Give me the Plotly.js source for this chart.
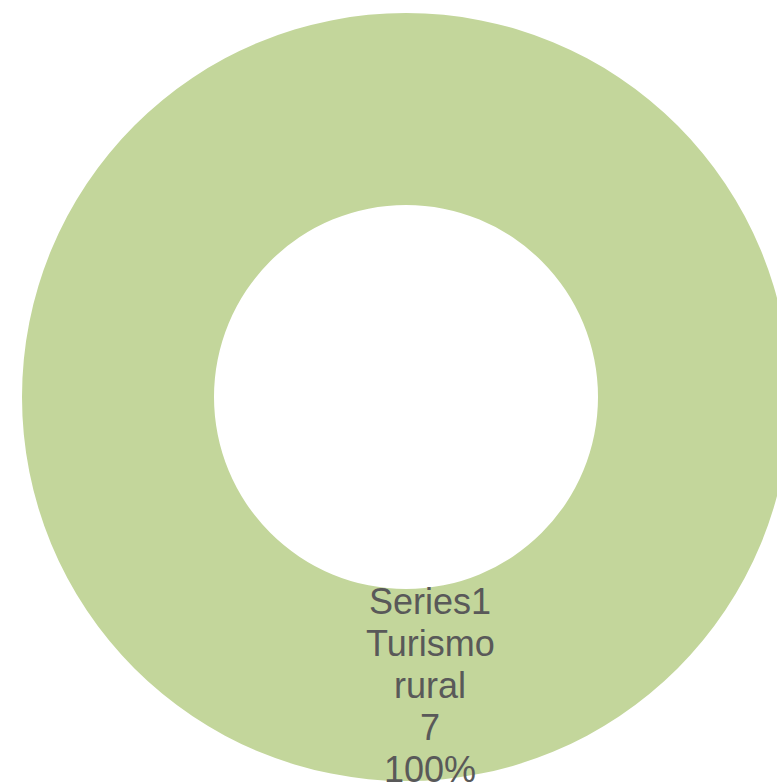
<!DOCTYPE html>
<html>
<head>
<meta charset="utf-8">
<script src="https://cdn.plot.ly/plotly-3.0.1.min.js"></script>
<style>
html, body { margin: 0; padding: 0; overflow: hidden; background: #ffffff; }
#chart { width: 800px; height: 800px; }
</style>
</head>
<body>
<div id="chart"></div>
<script>
const seriesName = "Series1";
const categories = ["Turismo rural"];
const values = [7];
const colors = ["#C3D69B"];

const total = values.reduce((a, b) => a + b, 0);
const pct = Math.round(values[0] / total * 100) + "%";
const labelLines = [seriesName].concat(categories[0].split(" ")).concat([String(values[0]), pct]);

const W = 800, H = 800;
const lineTop = 601, lineStep = 42, labelX = 430;
const annotations = labelLines.map((t, i) => ({
  text: t,
  x: labelX / W,
  y: 1 - (lineTop + i * lineStep) / H,
  xref: "paper", yref: "paper",
  xanchor: "center", yanchor: "middle",
  showarrow: false,
  font: { family: "Liberation Sans, Arial, sans-serif", size: 36, color: "#595959" }
}));

const data = [{
  type: "pie",
  labels: categories,
  values: values,
  hole: 0.5,
  sort: false,
  direction: "clockwise",
  rotation: 0,
  textinfo: "none",
  hoverinfo: "none",
  marker: { colors: colors, line: { width: 0 } },
  domain: { x: [22 / W, 790 / W], y: [(H - 781) / H, (H - 13) / H] },
  showlegend: false
}];

const layout = {
  width: W, height: H,
  margin: { l: 0, r: 0, t: 0, b: 0, pad: 0 },
  paper_bgcolor: "#ffffff",
  plot_bgcolor: "#ffffff",
  showlegend: false,
  annotations: annotations
};

Plotly.newPlot("chart", data, layout, { displayModeBar: false, staticPlot: true });
</script>
</body>
</html>
